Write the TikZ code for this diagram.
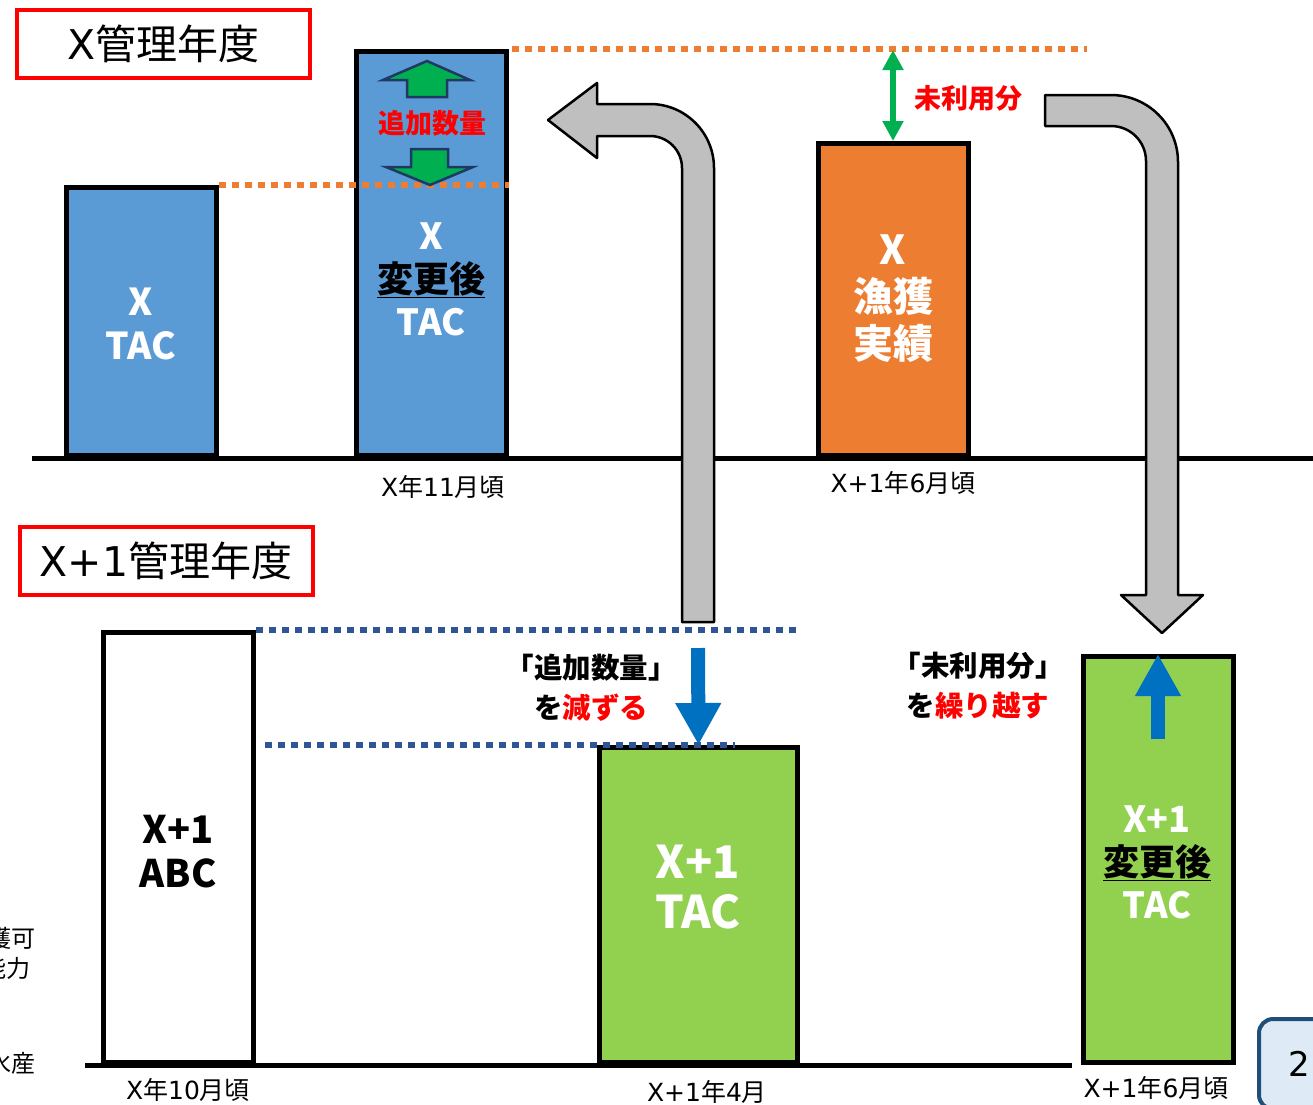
\documentclass[tikz,border=0pt]{standalone}
\usepackage{fontspec}
\setmainfont{Noto Sans CJK JP}
\newfontfamily\lat{DejaVu Sans}
\usetikzlibrary{arrows.meta}
\definecolor{barblue}{HTML}{5B9BD5}
\definecolor{barorange}{HTML}{ED7D31}
\definecolor{bargreen}{HTML}{92D050}
\definecolor{arrowgreen}{HTML}{00B050}
\definecolor{arrowedge}{HTML}{203864}
\definecolor{arrowblue}{HTML}{0070C0}
\definecolor{arrowgrey}{HTML}{BFBFBF}
\definecolor{dotblue}{HTML}{2F5597}
\definecolor{textred}{HTML}{FF0000}
\definecolor{pagefill}{HTML}{DEEBF7}
\definecolor{pageedge}{HTML}{1F4E79}

\begin{document}
\begin{tikzpicture}[x=1pt, y=-1pt,
  bar/.style={rectangle, draw, line width=5pt, anchor=south, inner sep=0pt, minimum width=150pt},
  bartext/.style={align=center, text=white, font=\bfseries\fontsize{37}{44}\selectfont},
  title/.style={rectangle, draw=textred, line width=4pt, minimum width=293pt, minimum height=68pt, font=\fontsize{41}{48}\selectfont},
  date/.style={font=\fontsize{25}{30}\selectfont},
  redlabel/.style={text=textred, font=\bfseries\fontsize{27}{32}\selectfont},
  note/.style={align=center, font=\bfseries\fontsize{28.5}{40}\selectfont},
  base/.style={line width=5pt},
  dotline/.style={line width=6.5pt, dash pattern=on 6.5pt off 6.5pt},
  greyarrow/.style={fill=arrowgrey, draw=black, line width=2.5pt, line join=round},
  greenarrow/.style={fill=arrowgreen, draw=arrowedge, line width=2.5pt},
  bluearrow/.style={draw=arrowblue, line width=14pt, -{Triangle[width=43pt, length=42pt]}},
  unusedarrow/.style={draw=arrowgreen, line width=6pt, {Triangle[width=20pt, length=20pt]}-{Triangle[width=20pt, length=20pt]}}
]
  \useasboundingbox (0,0) rectangle (1313,1104);
  \fill[white] (0,0) rectangle (1313,1104);

  % year boxes
  \node (yearx) [title] at (163.5,44) {{\lat X}管理年度};
  \node (yearnext) [title] at (166,561) {{\lat X+1}管理年度};

  % text cut off at the left edge
  \node (cuta) [date, font=\fontsize{24}{30}\selectfont, anchor=east] at (39,938) {漁獲可};
  \node (cutb) [date, font=\fontsize{24}{30}\selectfont, anchor=east] at (34,968) {能力};
  \node (cutc) [date, font=\fontsize{24}{30}\selectfont, anchor=east] at (39,1063) {水産};

  % base lines
  \draw[base] (32,458) -- (1313,458);
  \draw[base] (85,1065) -- (1072,1065);

  % X year
  \node (tacx) [bar, fill=barblue, minimum height=268pt] at (141.5,458) {};
  \node (tacnew) [bar, fill=barblue, minimum height=404pt] at (431.5,458) {};
  \node (catch) [bar, fill=barorange, minimum height=312pt] at (893,458) {};
  \node (tacxtxt) [bartext] at (141,324) {X\\TAC};
  \node (tacnewtxt) [bartext, font=\bfseries\fontsize{36}{43}\selectfont] at (431,279) {X\\\textcolor{black}{\underline{変更後}}\\TAC};
  \node (catchtxt) [bartext, font=\bfseries\fontsize{40}{47}\selectfont] at (893,299) {X\\漁獲\\実績};
  \node (datea) [date] at (443,487) {{\lat X}年{\lat 11}月頃};
  \node (dateb) [date] at (903,483) {{\lat X+1}年{\lat 6}月頃};

  \draw[dotline, draw=barorange] (tacx.north east) -- (tacx.north -| tacnew.east);
  \draw[dotline, draw=barorange] ([xshift=3pt]tacnew.north east) -- ++(575,0);

  \filldraw[greenarrow] (427,61) -- (470,80) -- (447,80) -- (447,97) -- (407,97) -- (407,80) -- (383,80) -- cycle;
  \filldraw[greenarrow] (411,149) -- (448,149) -- (448,167) -- (473,167) -- (430,185) -- (386,167) -- (411,167) -- cycle;
  \node (addqty) [redlabel] at (432,123) {追加数量};

  \coordinate (unusedtop) at (893,50);
  \draw[unusedarrow] (unusedtop) -- (catch.north);
  \node (unusedlbl) [redlabel] at (968,98) {未利用分};

  % X+1 year
  \node (abc) [bar, fill=white, minimum height=430pt] at (178.5,1065) {};
  \node (tacnext) [bar, fill=bargreen, minimum width=198pt, minimum height=315pt] at (698.5,1065) {};
  \node (tacnextnew) [bar, fill=bargreen, minimum height=406pt] at (1158,1065) {};
  \node (abctxt) [bartext, text=black, font=\bfseries\fontsize{38}{44}\selectfont] at (178,852) {X+1\\ABC};
  \node (tacnexttxt) [bartext, font=\bfseries\fontsize{45}{50}\selectfont] at (698,887) {X+1\\TAC};
  \node (tacnextnewtxt) [bartext, font=\bfseries\fontsize{36}{43}\selectfont] at (1157,862) {X+1\\\textcolor{black}{\underline{変更後}}\\TAC};
  \node (datec) [date] at (188,1090) {{\lat X}年{\lat 10}月頃};
  \node (dated) [date] at (707,1092) {{\lat X+1}年{\lat 4}月};
  \node (datee) [date] at (1156,1088) {{\lat X+1}年{\lat 6}月頃};

  \draw[dotline, draw=dotblue] (abc.north east) -- (abc.north -| tacnext.east);
  \draw[dotline, draw=dotblue] ([xshift=9pt]abc.east |- tacnext.north) -- ([xshift=-65pt]tacnext.north east);

  \coordinate (reducetop) at (698,648);
  \coordinate (carrybot) at (1158,739);
  \draw[bluearrow] (reducetop) -- (tacnext.north);
  \draw[bluearrow] (carrybot) -- (tacnextnew.north);
  \node (reducelbl) [note] at (591,688) {「追加数量」\\を\textcolor{textred}{減ずる}};
  \node (carrylbl) [note] at (978,686) {「未利用分」\\を\textcolor{textred}{繰り越す}};

  % bent arrows
  \filldraw[greyarrow] (682,622) -- (682,168) arc[start angle=0, end angle=90, radius=32pt] -- (597,136) -- (597,158) -- (548,120) -- (597,83) -- (597,104) -- (650,104) arc[start angle=90, end angle=0, radius=64pt] -- (714,622) -- cycle;
  \filldraw[greyarrow] (1045,95) -- (1111,95) arc[start angle=90, end angle=0, radius=67pt] -- (1178,595) -- (1203,595) -- (1162,633) -- (1121,595) -- (1146,595) -- (1146,161) arc[start angle=0, end angle=90, radius=35pt] -- (1045,126) -- cycle;

  % page number
  \node (pageno) [rectangle, rounded corners=14pt, draw=pageedge, fill=pagefill, line width=4pt, minimum width=80pt, minimum height=90pt, font=\lat\fontsize{34}{40}\selectfont] at (1299,1064) {2};
\end{tikzpicture}
\end{document}
